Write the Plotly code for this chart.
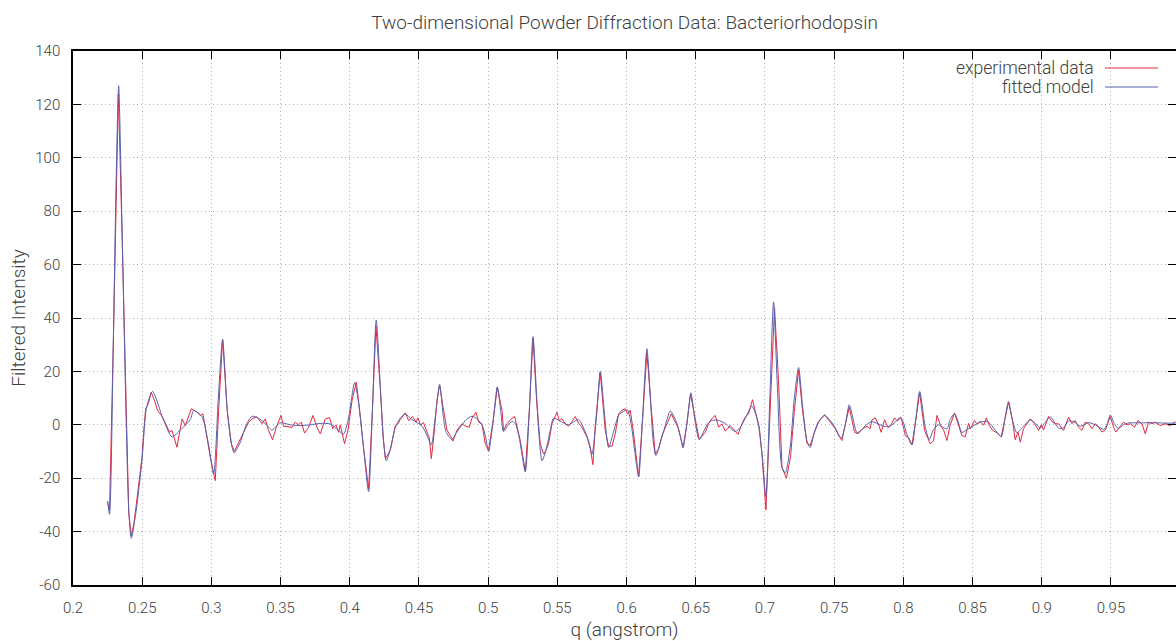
import plotly.graph_objects as go

# ---------------- data ----------------
model_q = [0.2250, 0.2264, 0.2291, 0.2313, 0.2330, 0.2356, 0.2385, 0.2403, 0.2421, 0.2457,
           0.2499, 0.2530, 0.2575, 0.2655, 0.2715, 0.2775, 0.2848, 0.2872, 0.2932, 0.2978,
           0.3016, 0.3050, 0.3081, 0.3115, 0.3144, 0.3165, 0.3209, 0.3252, 0.3293, 0.3339,
           0.3389, 0.3438, 0.3469, 0.3498, 0.3570, 0.3642, 0.3715, 0.3787, 0.3859, 0.3917,
           0.3955, 0.3989, 0.4035, 0.4064, 0.4098, 0.4136, 0.4163, 0.4191, 0.4220, 0.4242,
           0.4264, 0.4293, 0.4329, 0.4365, 0.4401, 0.4449, 0.4522, 0.4558, 0.4589, 0.4618,
           0.4649, 0.4676, 0.4695, 0.4738, 0.4770, 0.4811, 0.4842, 0.4883, 0.4914, 0.4955,
           0.4979, 0.5003, 0.5037, 0.5066, 0.5091, 0.5111, 0.5145, 0.5172, 0.5196, 0.5225,
           0.5268, 0.5297, 0.5324, 0.5351, 0.5369, 0.5389, 0.5420, 0.5449, 0.5473, 0.5521,
           0.5581, 0.5615, 0.5653, 0.5702, 0.5731, 0.5750, 0.5781, 0.5810, 0.5839, 0.5870,
           0.5904, 0.5942, 0.5976, 0.6007, 0.6034, 0.6059, 0.6087, 0.6113, 0.6147, 0.6174,
           0.6192, 0.6212, 0.6256, 0.6287, 0.6316, 0.6364, 0.6388, 0.6408, 0.6435, 0.6465,
           0.6493, 0.6525, 0.6581, 0.6612, 0.6653, 0.6713, 0.6785, 0.6821, 0.6858, 0.6906,
           0.6933, 0.6954, 0.6981, 0.7007, 0.7035, 0.7062, 0.7089, 0.7123, 0.7147, 0.7183,
           0.7212, 0.7243, 0.7270, 0.7303, 0.7327, 0.7356, 0.7387, 0.7431, 0.7465, 0.7503,
           0.7551, 0.7580, 0.7609, 0.7638, 0.7665, 0.7701, 0.7732, 0.7773, 0.7819, 0.7869,
           0.7905, 0.7941, 0.7978, 0.7999, 0.8026, 0.8062, 0.8090, 0.8118, 0.8158, 0.8187,
           0.8216, 0.8254, 0.8288, 0.8315, 0.8339, 0.8370, 0.8397, 0.8423, 0.8454, 0.8495,
           0.8568, 0.8615, 0.8664, 0.8707, 0.8733, 0.8760, 0.8787, 0.8821, 0.8860, 0.8917,
           0.8954, 0.8989, 0.9026, 0.9062, 0.9091, 0.9121, 0.9156, 0.9194, 0.9235, 0.9279,
           0.9339, 0.9387, 0.9447, 0.9471, 0.9495, 0.9524, 0.9555, 0.9589, 0.9627, 0.9712,
           0.9784, 0.9857, 0.9929, 0.9972]
model_val = [-28.5, -33.5, 30.0, 95.0, 127.0, 70.0, 0.0, -32.0, -42.5, -32.0,
             -13.0, 6.0, 12.5, 1.6, -4.5, -2.0, 2.0, 5.4, 3.0, -7.0,
             -18.5, 10.0, 32.0, 5.0, -7.0, -10.5, -6.5, 0.0, 3.2, 2.5,
             0.5, -2.0, -0.5, 0.8, 0.0, -0.3, 0.0, 0.5, 0.3, -2.0,
             -3.5, 2.0, 15.8, 8.0, -8.0, -25.0, 5.0, 39.2, 15.0, -5.0,
             -13.5, -9.0, -1.0, 2.5, 4.0, 2.0, -0.5, -4.0, -7.5, 3.0,
             15.0, 3.0, -2.5, -5.5, -3.0, 0.0, 2.0, 3.2, 2.5, 0.0,
             -4.0, -10.0, 2.0, 14.2, 5.0, -2.5, 0.0, 1.3, 0.5, -5.0,
             -17.5, 5.0, 33.0, 10.0, -5.0, -13.5, -9.0, -2.0, 2.5, 1.3,
             0.0, 1.0, 2.0, -2.7, -7.0, -11.0, 2.0, 20.0, 5.0, -8.5,
             -3.0, 3.5, 5.0, 5.5, 0.0, -10.0, -19.5, 0.0, 28.5, 8.0,
             -6.0, -11.5, -4.5, 1.0, 5.2, 0.5, -4.0, -8.5, 0.0, 12.0,
             2.0, -5.5, 0.0, 1.5, 1.8, 0.5, -2.5, -1.0, 2.5, 7.0,
             4.0, -0.5, -12.0, -27.0, 10.0, 46.0, 15.0, -16.0, -18.0, -8.0,
             10.0, 21.5, 8.0, -6.0, -8.5, -3.0, 1.2, 3.5, 2.0, -0.7,
             -5.0, 0.0, 7.5, 2.0, -3.0, -1.7, 0.0, 1.2, 0.3, -0.7,
             -0.5, 1.0, 2.8, 1.0, -3.7, -7.5, 2.0, 12.5, -0.7, -5.5,
             -2.0, 0.0, -1.0, -1.5, 2.0, 4.2, 1.0, -2.9, -2.0, -0.7,
             1.2, 1.0, -2.0, -4.5, 2.0, 8.7, 2.0, -3.0, -1.0, 1.8,
             0.5, -1.2, 1.0, 3.0, 1.0, -1.2, -1.2, 1.5, 1.0, -0.5,
             0.8, 0.0, -1.7, 0.0, 3.7, 0.5, -1.4, 0.0, 0.7, 0.7,
             0.8, 0.7, 0.6, 0.7]

exp_q = [0.2250, 0.2264, 0.2291, 0.2313, 0.2328, 0.2356, 0.2385, 0.2403, 0.2421, 0.2440,
         0.2457, 0.2480, 0.2499, 0.2512, 0.2525, 0.2545, 0.2565, 0.2590, 0.2610, 0.2647,
         0.2698, 0.2715, 0.2751, 0.2788, 0.2811, 0.2855, 0.2896, 0.2920, 0.2939, 0.2992,
         0.3028, 0.3052, 0.3081, 0.3115, 0.3144, 0.3165, 0.3209, 0.3245, 0.3269, 0.3293,
         0.3329, 0.3366, 0.3389, 0.3413, 0.3442, 0.3469, 0.3503, 0.3522, 0.3546, 0.3582,
         0.3606, 0.3630, 0.3650, 0.3673, 0.3702, 0.3734, 0.3763, 0.3787, 0.3823, 0.3854,
         0.3876, 0.3900, 0.3919, 0.3931, 0.3962, 0.3987, 0.4016, 0.4047, 0.4066, 0.4098,
         0.4136, 0.4163, 0.4189, 0.4220, 0.4242, 0.4257, 0.4293, 0.4329, 0.4348, 0.4365,
         0.4401, 0.4425, 0.4454, 0.4478, 0.4493, 0.4509, 0.4533, 0.4558, 0.4575, 0.4589,
         0.4608, 0.4630, 0.4649, 0.4678, 0.4702, 0.4726, 0.4746, 0.4775, 0.4811, 0.4835,
         0.4863, 0.4883, 0.4912, 0.4931, 0.4955, 0.4979, 0.5003, 0.5037, 0.5066, 0.5100,
         0.5111, 0.5136, 0.5160, 0.5191, 0.5208, 0.5232, 0.5268, 0.5297, 0.5324, 0.5351,
         0.5376, 0.5400, 0.5418, 0.5436, 0.5461, 0.5480, 0.5497, 0.5514, 0.5533, 0.5557,
         0.5581, 0.5605, 0.5629, 0.5653, 0.5678, 0.5714, 0.5738, 0.5757, 0.5774, 0.5810,
         0.5846, 0.5870, 0.5895, 0.5918, 0.5942, 0.5967, 0.5991, 0.6007, 0.6027, 0.6051,
         0.6087, 0.6113, 0.6147, 0.6180, 0.6207, 0.6231, 0.6256, 0.6292, 0.6323, 0.6347,
         0.6371, 0.6408, 0.6435, 0.6462, 0.6496, 0.6525, 0.6569, 0.6593, 0.6621, 0.6641,
         0.6665, 0.6689, 0.6713, 0.6749, 0.6773, 0.6805, 0.6834, 0.6858, 0.6881, 0.6910,
         0.6935, 0.6959, 0.6978, 0.7007, 0.7026, 0.7069, 0.7098, 0.7123, 0.7155, 0.7185,
         0.7212, 0.7243, 0.7270, 0.7303, 0.7327, 0.7356, 0.7387, 0.7431, 0.7472, 0.7508,
         0.7532, 0.7556, 0.7580, 0.7609, 0.7647, 0.7672, 0.7701, 0.7737, 0.7760, 0.7773,
         0.7797, 0.7821, 0.7840, 0.7864, 0.7889, 0.7912, 0.7936, 0.7954, 0.7985, 0.8014,
         0.8038, 0.8062, 0.8090, 0.8118, 0.8153, 0.8194, 0.8218, 0.8243, 0.8267, 0.8291,
         0.8315, 0.8339, 0.8370, 0.8399, 0.8423, 0.8447, 0.8471, 0.8483, 0.8514, 0.8531,
         0.8556, 0.8580, 0.8599, 0.8621, 0.8645, 0.8677, 0.8707, 0.8733, 0.8760, 0.8789,
         0.8808, 0.8828, 0.8845, 0.8868, 0.8917, 0.8948, 0.8977, 0.8996, 0.9013, 0.9049,
         0.9074, 0.9098, 0.9121, 0.9158, 0.9194, 0.9218, 0.9242, 0.9266, 0.9290, 0.9314,
         0.9339, 0.9363, 0.9387, 0.9411, 0.9435, 0.9459, 0.9495, 0.9519, 0.9536, 0.9561,
         0.9591, 0.9616, 0.9640, 0.9671, 0.9695, 0.9724, 0.9748, 0.9772, 0.9796, 0.9820,
         0.9856, 0.9892, 0.9929, 0.9965]
exp_val = [-29.0, -32.0, 30.0, 92.0, 124.0, 68.0, -2.0, -33.0, -41.5, -37.0,
           -30.0, -20.0, -12.0, -2.0, 6.0, 8.0, 12.2, 9.0, 5.5, 2.9,
           -2.8, -2.1, -8.4, 2.2, -0.3, 6.0, 4.7, 3.5, 4.1, -12.1,
           -20.9, 5.0, 32.0, 5.0, -7.0, -10.0, -5.5, -1.5, 1.0, 2.2,
           3.0, 0.4, 2.2, -2.1, -5.6, -0.9, 3.5, -0.6, -0.6, -1.0,
           1.0, 0.0, 1.0, -3.1, -1.0, 3.5, -1.0, -3.4, 2.2, 2.7,
           -1.5, 0.0, -2.8, 0.0, -7.1, -2.0, 9.0, 16.0, 8.0, -8.0,
           -24.0, 5.0, 37.0, 14.0, -5.0, -12.7, -9.6, -0.3, 0.4, 2.0,
           4.5, 1.6, 3.1, 1.0, 2.6, 0.0, 0.8, -2.8, -5.0, -12.7,
           -4.0, 9.0, 15.0, 5.4, -2.0, -4.0, -6.1, -2.0, 0.4, -0.5,
           -0.9, 2.5, 4.7, 1.0, 0.3, -7.1, -9.5, 2.0, 14.0, 5.4,
           -2.1, 0.4, 1.9, 3.1, -0.3, -5.9, -17.5, 5.0, 32.5, 8.0,
           -7.1, -10.9, -9.6, -7.1, 0.4, 2.9, 4.7, 1.5, 2.3, 0.4,
           -0.5, 1.2, 3.1, 0.6, -0.9, -4.6, -9.0, -14.9, 0.0, 19.5,
           -2.1, -8.0, -8.0, -3.4, 4.0, 5.5, 6.0, 4.0, 5.4, -3.4,
           -19.5, 0.0, 27.0, 5.0, -10.9, -9.0, -4.0, 0.4, 4.1, 1.5,
           -0.9, -8.5, 0.0, 11.5, 1.6, -5.5, -2.8, 0.6, 2.6, 3.5,
           -0.9, 0.4, -2.4, -0.3, -1.7, -3.6, 0.4, 2.9, 4.1, 9.4,
           4.1, -0.9, -10.9, -31.9, -8.4, 44.0, 16.6, -15.9, -20.0, -12.0,
           5.0, 20.5, 6.0, -6.9, -7.7, -3.0, 1.0, 3.8, 1.0, -1.5,
           -4.0, -5.9, 0.0, 6.6, -2.8, -3.4, -1.7, -0.5, -1.5, 1.9,
           2.6, 0.0, -2.8, 1.9, -1.0, 0.0, 2.6, 1.5, 2.6, -4.0,
           -4.8, -7.5, 2.0, 12.0, -2.1, -7.1, -6.0, 3.5, 0.0, -2.0,
           -5.9, 0.0, 4.4, -0.4, -4.0, -4.5, 0.5, -1.5, 1.6, 0.4,
           1.2, -0.2, 2.6, -0.2, -2.1, -3.0, -4.5, 2.0, 8.5, 1.5,
           -5.6, -2.8, -6.5, -1.5, 2.2, 0.4, -2.1, 0.0, -2.0, 3.1,
           1.2, 0.4, 0.4, -2.1, 2.9, 0.4, 1.6, -0.9, -2.1, 1.0,
           0.4, -1.5, 0.4, -0.9, -2.7, -2.0, 3.1, -0.9, -2.7, -0.9,
           1.0, 0.0, 0.4, -0.9, 1.6, 0.4, -3.4, 1.0, 0.4, 1.0,
           -0.3, 0.4, -0.3, 1.2]

x_tick_vals = [0.2, 0.25, 0.3, 0.35, 0.4, 0.45, 0.5, 0.55, 0.6, 0.65, 0.7, 0.75, 0.8, 0.85, 0.9, 0.95]
x_tick_text = ["0.2", "0.25", "0.3", "0.35", "0.4", "0.45", "0.5", "0.55", "0.6", "0.65",
               "0.7", "0.75", "0.8", "0.85", "0.9", "0.95"]
y_tick_vals = [-60, -40, -20, 0, 20, 40, 60, 80, 100, 120, 140]
y_tick_text = ["-60", "-40", "-20", "0", "20", "40", "60", "80", "100", "120", "140"]

series_names = ["experimental data", "fitted model"]

# ---------------- styling ----------------
RED = "#e5283f"
BLUE = "#5563b0"
FONT = "Roboto"
TXT = "#404040"

fig = go.Figure()
fig.add_trace(go.Scatter(x=exp_q, y=exp_val, mode="lines", name=series_names[0],
                         line=dict(color=RED, width=1), showlegend=False))
fig.add_trace(go.Scatter(x=model_q, y=model_val, mode="lines", name=series_names[1],
                         line=dict(color=BLUE, width=1, shape="spline", smoothing=0.7),
                         showlegend=False))

axis_common = dict(
    showline=True, linecolor="black", linewidth=1.5, mirror="ticks",
    ticks="inside", ticklen=8, tickwidth=1.2, tickcolor="black",
    showgrid=True, gridcolor="#b4b4b4", griddash="1px,3px", gridwidth=1,
    zeroline=False, ticklabelstandoff=8,
    tickfont=dict(family=FONT, size=15, color=TXT, weight=300),
)

fig.update_layout(
    width=1176, height=641,
    margin=dict(l=73, r=0, t=51, b=56, autoexpand=False),
    paper_bgcolor="white", plot_bgcolor="white",
    title=dict(text="Two-dimensional Powder Diffraction Data: Bacteriorhodopsin",
               x=0.5, xref="paper", y=1 - 22 / 641, yref="container",
               xanchor="center", yanchor="middle",
               font=dict(family=FONT, size=19, color=TXT, weight=300)),
    xaxis=dict(range=[0.2, 0.997], tickvals=x_tick_vals, ticktext=x_tick_text,
               title=dict(text="q (angstrom)", standoff=12,
                          font=dict(family=FONT, size=19, color=TXT, weight=300)),
               **axis_common),
    yaxis=dict(range=[-60, 140], tickvals=y_tick_vals, ticktext=y_tick_text,
               title=dict(text="Filtered Intensity", standoff=5,
                          font=dict(family=FONT, size=19, color=TXT, weight=300)),
               **axis_common),
    showlegend=False,
)

# gnuplot-style key: text right-aligned, sample line to its right
key_rows = [(series_names[0], RED, 1 - (68.0 - 51) / 534),
            (series_names[1], BLUE, 1 - (87.0 - 51) / 534)]
for label, col, yk in key_rows:
    fig.add_annotation(xref="paper", yref="paper", x=(1094 - 73) / 1103, y=yk,
                       text=label, showarrow=False, xanchor="right", yanchor="middle",
                       borderpad=0, borderwidth=0,
                       font=dict(family=FONT, size=17.5, color=TXT, weight=300))
    fig.add_shape(type="line", xref="paper", yref="paper", layer="above",
                  x0=(1105 - 73) / 1103, x1=(1158 - 73) / 1103, y0=yk, y1=yk,
                  line=dict(color=col, width=1.2))

fig.write_html("out.html", config={"displayModeBar": False},
               post_script="document.body.style.margin='0px';")
